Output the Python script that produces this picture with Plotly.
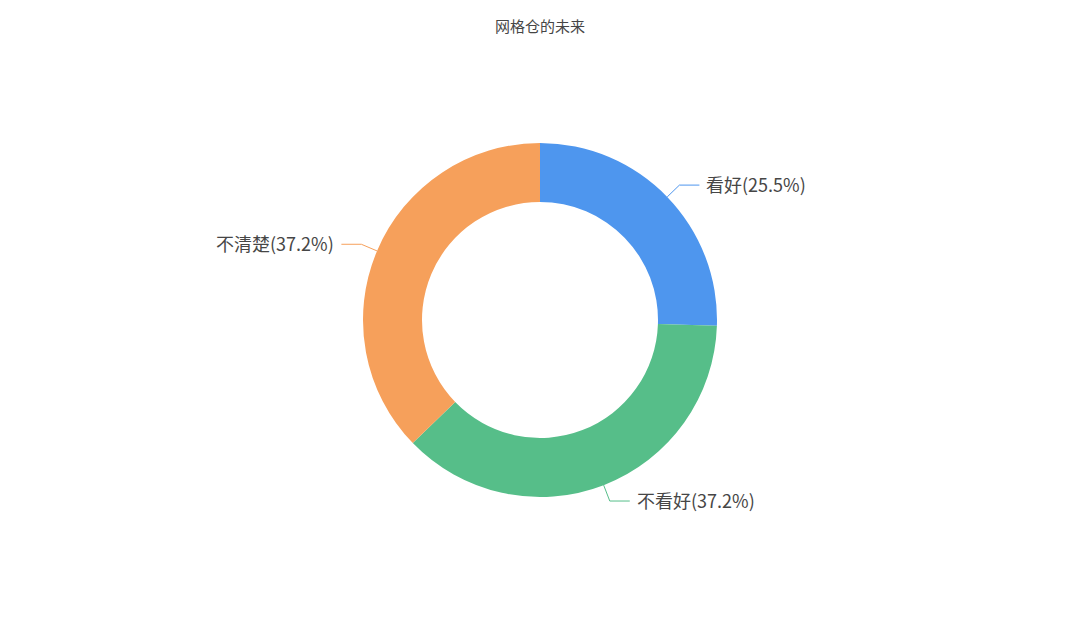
import math

import plotly.graph_objects as go

W, H = 1080, 627

# Data
labels = ["看好", "不看好", "不清楚"]
values = [25.5, 37.2, 37.2]
colors = ["#4E96EE", "#56BE89", "#F6A05B"]

# Pie geometry in pixels (center and radii)
cx, cy = 540, 320
r_out = 177
r_in = 118
len1, len2 = 17, 20

fig = go.Figure()

dom_h = 2 * r_out / H
dom_c = (H - cy) / H
fig.add_trace(
    go.Pie(
        labels=labels,
        values=values,
        hole=r_in / r_out,
        sort=False,
        direction="clockwise",
        rotation=0,
        marker=dict(colors=colors, line=dict(width=0)),
        textinfo="none",
        hoverinfo="label+percent",
        showlegend=False,
        domain=dict(x=[0, 1], y=[dom_c - dom_h / 2, dom_c + dom_h / 2]),
    )
)

# Leader lines and labels computed from the slice angles
total = sum(values)
cum = 0
for lab, val, col in zip(labels, values, colors):
    mid = (cum + val / 2) / total * 2 * math.pi
    cum += val
    s, c = math.sin(mid), math.cos(mid)
    x0, y0 = cx + r_out * s, cy - r_out * c
    x1, y1 = cx + (r_out + len1) * s, cy - (r_out + len1) * c
    side = 1 if s >= 0 else -1
    x2 = x1 + side * len2
    fig.add_trace(
        go.Scatter(
            x=[x0, x1, x2],
            y=[y0, y1, y1],
            mode="lines",
            line=dict(color=col, width=1),
            hoverinfo="skip",
            showlegend=False,
        )
    )
    pct = val / total * 100
    fig.add_annotation(
        x=x2 + side * 5,
        y=y1 - 1,
        text=f"{lab}({pct:.1f}%)",
        showarrow=False,
        xanchor="left" if side > 0 else "right",
        yanchor="middle",
        font=dict(size=18, color="#464646"),
    )

fig.update_layout(
    width=W,
    height=H,
    margin=dict(l=0, r=0, t=0, b=0),
    paper_bgcolor="white",
    plot_bgcolor="rgba(0,0,0,0)",
    font=dict(family="Noto Sans CJK SC, Noto Sans, sans-serif"),
    title=dict(
        text="网格仓的未来",
        x=0.5,
        xanchor="center",
        y=1 - 27 / H,
        yanchor="middle",
        font=dict(size=15, color="#464646"),
    ),
    xaxis=dict(range=[0, W], visible=False, fixedrange=True),
    yaxis=dict(range=[H, 0], visible=False, fixedrange=True),
)

# drop the browser's default body margin so the figure sits at the page corner
fig.write_html(
    "out.html",
    config={"displayModeBar": False},
    post_script="document.body.style.margin='0';",
)
